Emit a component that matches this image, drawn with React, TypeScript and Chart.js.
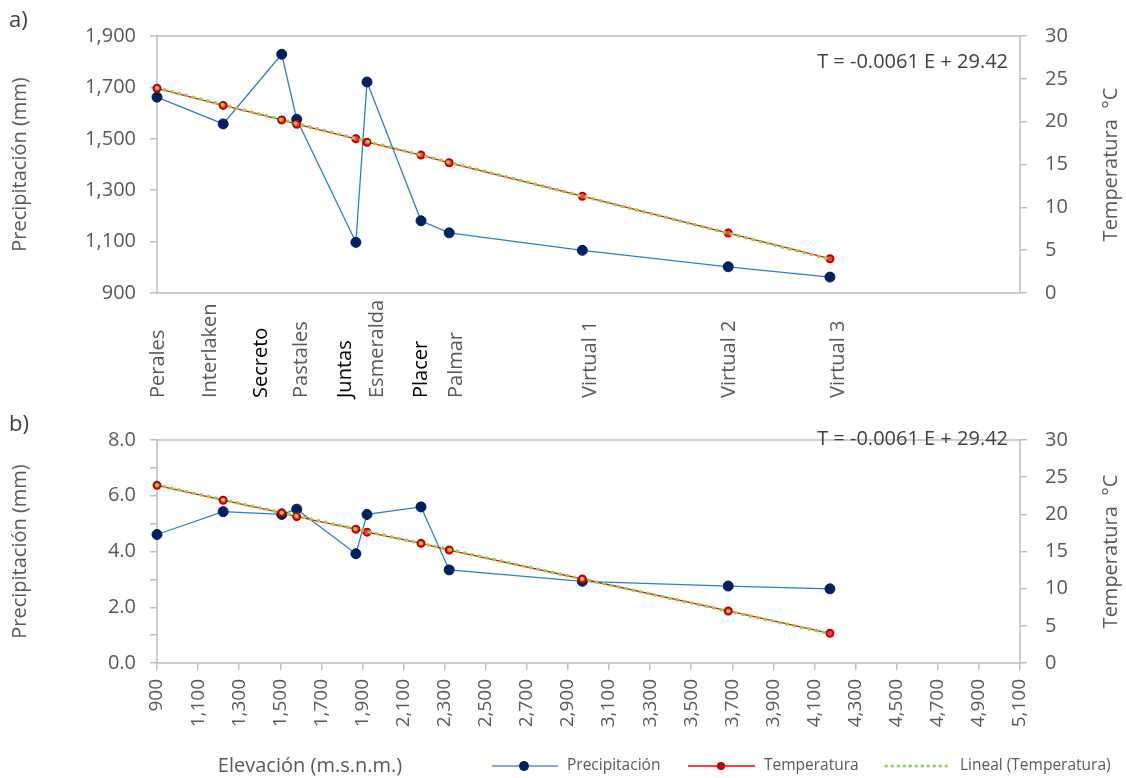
import React, { useEffect, useRef } from 'react';
import { Chart, registerables } from 'chart.js';

Chart.register(...registerables);

// Stations along the elevation transect
const stations = ['Perales', 'Interlaken', 'Secreto', 'Pastales', 'Juntas', 'Esmeralda', 'Placer', 'Palmar', 'Virtual 1', 'Virtual 2', 'Virtual 3'];
const elevations = [900, 1222, 1507, 1580, 1868, 1922, 2185, 2322, 2970, 3680, 4175];
// a) annual precipitation (mm)
const annualPrecipitation = [1662, 1558, 1829, 1576, 1097, 1721, 1181, 1134, 1066, 1002, 962];
// b) daily precipitation (mm)
const dailyPrecipitation = [4.61, 5.43, 5.33, 5.52, 3.92, 5.33, 5.6, 3.34, 2.93, 2.76, 2.66];
// mean temperature (°C)
const temperature = [23.9, 21.9, 20.2, 19.7, 18.0, 17.6, 16.1, 15.2, 11.3, 7.0, 4.0];
// linear fit T = a·E + b
const trendSlope = -0.0061;
const trendIntercept = 29.42;
const emphasizedStations = ['Secreto', 'Juntas', 'Placer'];
const elevationTicks = [900, 1100, 1300, 1500, 1700, 1900, 2100, 2300, 2500, 2700, 2900, 3100, 3300, 3500, 3700, 3900, 4100, 4300, 4500, 4700, 4900, 5100];
// horizontal nudges (px) that keep the rotated station names apart
const stationLabelShift = [1, -13, -20, 5, -11, 10, 0, 7, 8, 1, 8];

const WIDTH = 1126;
const TOP_H = 410;
const BOTTOM_H = 368;
const FONT = "'Open Sans', sans-serif";
const GREY = '#595959';
const DARK = '#404040';
const AXIS = '#bfbfbf';
const PRECIP_LINE = '#2a7fd4';
const PRECIP_DOT = '#002060';
const TEMP_LINE = '#ff0000';
const TEMP_DOT = '#c00000';
const TREND = '#92d050';

const equationText = `T = ${trendSlope} E + ${trendIntercept}`;

const toPoints = (ys: number[]) => elevations.map((x, i) => ({ x, y: ys[i] }));
const trendPoints = () => {
  const e0 = elevations[0];
  const e1 = elevations[elevations.length - 1];
  return [
    { x: e0, y: trendSlope * e0 + trendIntercept },
    { x: e1, y: trendSlope * e1 + trendIntercept },
  ];
};

function makeDatasets(precip: number[]) {
  return [
    {
      label: 'Lineal (Temperatura)',
      data: trendPoints(),
      yAxisID: 'yT',
      showLine: true,
      borderColor: TREND,
      borderWidth: 3.5,
      borderDash: [0.5, 7],
      borderCapStyle: 'round',
      pointRadius: 0,
      clip: false,
      order: 0,
    },
    {
      label: 'Temperatura',
      data: toPoints(temperature),
      yAxisID: 'yT',
      showLine: true,
      borderColor: TEMP_LINE,
      borderWidth: 1.3,
      pointRadius: 3.5,
      pointBackgroundColor: '#ff4040',
      pointBorderColor: TEMP_DOT,
      pointBorderWidth: 2,
      clip: false,
      order: 1,
    },
    {
      label: 'Precipitación',
      data: toPoints(precip),
      yAxisID: 'yP',
      showLine: true,
      borderColor: PRECIP_LINE,
      borderWidth: 1.3,
      pointRadius: 5,
      pointBackgroundColor: PRECIP_DOT,
      pointBorderColor: PRECIP_DOT,
      pointBorderWidth: 1,
      clip: false,
      order: 2,
    },
  ];
}

const tickFont = { family: FONT, size: 20 };
const tickGrid = { drawOnChartArea: false, drawTicks: true, tickLength: 7, color: AXIS, lineWidth: 1.5 };

function makeScales(cfg: {
  pMin: number; pMax: number; pStep: number; pLabelEvery: number; decimals: number;
  showX: boolean; xHeight: number;
}) {
  return {
    x: {
      type: 'linear',
      min: 900,
      max: 5100,
      afterBuildTicks: (s: any) => { s.ticks = elevationTicks.map((v) => ({ value: v })); },
      afterFit: (s: any) => { s.height = cfg.xHeight; },
      border: { display: false },
      grid: cfg.showX ? tickGrid : { display: false },
      ticks: {
        display: cfg.showX,
        autoSkip: false,
        minRotation: 90,
        maxRotation: 90,
        padding: 9,
        color: GREY,
        font: { family: FONT, size: 19 },
        callback: (v: number) => Number(v).toLocaleString('en-US'),
      },
    },
    yP: {
      type: 'linear',
      position: 'left',
      min: cfg.pMin,
      max: cfg.pMax,
      afterFit: (s: any) => { s.width = 157; },
      border: { display: false },
      grid: tickGrid,
      ticks: {
        stepSize: cfg.pStep,
        padding: 14,
        color: GREY,
        font: tickFont,
        callback: (v: number) => {
          const k = Math.round((v - cfg.pMin) / cfg.pStep);
          if (k % cfg.pLabelEvery !== 0) return '';
          return cfg.decimals > 0
            ? Number(v).toFixed(cfg.decimals)
            : Number(v).toLocaleString('en-US');
        },
      },
    },
    yT: {
      type: 'linear',
      position: 'right',
      min: 0,
      max: 30,
      afterFit: (s: any) => { s.width = WIDTH - 1020; },
      border: { display: false },
      grid: tickGrid,
      ticks: { stepSize: 5, padding: 18, color: GREY, font: tickFont },
    },
  };
}

function text(ctx: CanvasRenderingContext2D, s: string, x: number, y: number, opts: {
  size?: number; color?: string; align?: CanvasTextAlign; rotate?: boolean;
}) {
  ctx.save();
  ctx.font = `${opts.size ?? 20}px ${FONT}`;
  ctx.fillStyle = opts.color ?? GREY;
  ctx.textAlign = opts.align ?? 'left';
  ctx.textBaseline = 'middle';
  ctx.translate(x, y);
  if (opts.rotate) ctx.rotate(-Math.PI / 2);
  ctx.fillText(s, 0, 0);
  ctx.restore();
}

const framePlugin = {
  id: 'frame',
  beforeDatasetsDraw(chart: any) {
    const { ctx, chartArea: a } = chart;
    ctx.save();
    ctx.strokeStyle = AXIS;
    ctx.lineWidth = 1.5;
    ctx.strokeRect(a.left, a.top, a.right - a.left, a.bottom - a.top);
    ctx.restore();
  },
};

function panelDecor(tag: string, equationY: number) {
  return {
    id: 'decor',
    afterDraw(chart: any) {
      const { ctx, chartArea: a } = chart;
      const cy = (a.top + a.bottom) / 2;
      text(ctx, tag, 9, a.top - 15, { size: 22, color: DARK });
      text(ctx, 'Precipitación (mm)', 20, cy, { rotate: true, align: 'center', size: 20 });
      text(ctx, 'Temperatura  °C', 1111, cy, { rotate: true, align: 'center', size: 20 });
      text(ctx, equationText, 1008, equationY, { align: 'right', color: DARK, size: 20 });
    },
  };
}

const stationLabels = {
  id: 'stationLabels',
  afterDraw(chart: any) {
    const { ctx } = chart;
    const xs = chart.scales.x;
    stations.forEach((name, i) => {
      const x = xs.getPixelForValue(elevations[i]) + stationLabelShift[i];
      const strong = emphasizedStations.includes(name);
      text(ctx, name, x, 398, { rotate: true, align: 'left', size: 20, color: strong ? '#000000' : GREY });
    });
  },
};

const bottomLegend = {
  id: 'bottomLegend',
  afterDraw(chart: any) {
    const { ctx } = chart;
    const y = 356;
    text(ctx, 'Elevación (m.s.n.m.)', 310, y, { align: 'center', size: 20 });
    ctx.save();
    // Precipitación
    ctx.strokeStyle = '#5b8fd0';
    ctx.lineWidth = 1.5;
    ctx.beginPath(); ctx.moveTo(492, y); ctx.lineTo(558, y); ctx.stroke();
    ctx.fillStyle = PRECIP_DOT;
    ctx.beginPath(); ctx.arc(524, y, 5, 0, Math.PI * 2); ctx.fill();
    // Temperatura
    ctx.strokeStyle = TEMP_LINE;
    ctx.beginPath(); ctx.moveTo(688, y); ctx.lineTo(755, y); ctx.stroke();
    ctx.fillStyle = TEMP_DOT;
    ctx.beginPath(); ctx.arc(721, y, 4, 0, Math.PI * 2); ctx.fill();
    // Lineal (Temperatura)
    ctx.strokeStyle = TREND;
    ctx.lineWidth = 3;
    ctx.lineCap = 'round';
    ctx.setLineDash([0.5, 5.5]);
    ctx.beginPath(); ctx.moveTo(886, y); ctx.lineTo(950, y); ctx.stroke();
    ctx.restore();
    text(ctx, 'Precipitación', 567, y, { size: 15.5 });
    text(ctx, 'Temperatura', 764, y, { size: 15.5 });
    text(ctx, 'Lineal (Temperatura)', 960, y, { size: 15.5 });
  },
};

function makeChart(canvas: HTMLCanvasElement, kind: 'a' | 'b') {
  const isA = kind === 'a';
  return new Chart(canvas, {
    type: 'scatter',
    data: { datasets: makeDatasets(isA ? annualPrecipitation : dailyPrecipitation) as any },
    options: {
      responsive: false,
      animation: false,
      devicePixelRatio: 1,
      layout: { padding: { top: isA ? 36 : 13, left: 0, right: 0, bottom: 0 } },
      plugins: { legend: { display: false }, tooltip: { enabled: false } },
      scales: makeScales(
        isA
          ? { pMin: 900, pMax: 1900, pStep: 100, pLabelEvery: 2, decimals: 0, showX: false, xHeight: TOP_H - 293 }
          : { pMin: 0, pMax: 8, pStep: 1, pLabelEvery: 2, decimals: 1, showX: true, xHeight: BOTTOM_H - 253 }
      ) as any,
    },
    plugins: isA
      ? [framePlugin, panelDecor('a)', 62), stationLabels]
      : [framePlugin, panelDecor('b)', 29), bottomLegend],
  });
}

export default function App() {
  const topRef = useRef<HTMLCanvasElement>(null);
  const bottomRef = useRef<HTMLCanvasElement>(null);

  useEffect(() => {
    const a = makeChart(topRef.current!, 'a');
    const b = makeChart(bottomRef.current!, 'b');
    return () => { a.destroy(); b.destroy(); };
  }, []);

  return (
    <div style={{ position: 'absolute', left: 0, top: 0, width: WIDTH, height: TOP_H + BOTTOM_H, background: '#ffffff' }}>
      <canvas ref={topRef} width={WIDTH} height={TOP_H} style={{ position: 'absolute', left: 0, top: 0, width: WIDTH, height: TOP_H }} />
      <canvas ref={bottomRef} width={WIDTH} height={BOTTOM_H} style={{ position: 'absolute', left: 0, top: TOP_H, width: WIDTH, height: BOTTOM_H }} />
    </div>
  );
}
